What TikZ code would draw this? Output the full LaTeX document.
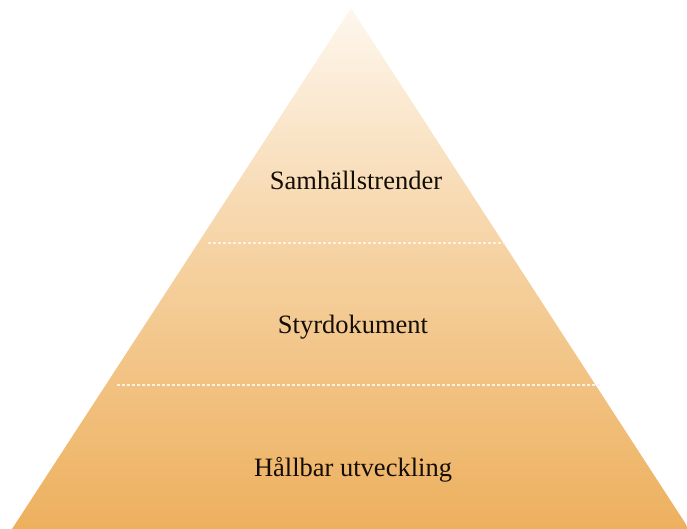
\documentclass[tikz,border=0pt]{standalone}
\usepackage{fontspec}
\setmainfont{Liberation Serif}
\begin{document}
\begin{tikzpicture}[x=1pt,y=-1pt,
  label/.style={font=\fontsize{26.5}{30}\selectfont, text=black!90!brown, inner sep=0pt, anchor=base},
  sep/.style={draw=white!90!orange, line width=1.2pt, dash pattern=on 2.5pt off 2.5pt}]
\useasboundingbox (0,0) rectangle (687,529);
\coordinate (apex) at (351,8);
\coordinate (bl) at (12,529);
\coordinate (br) at (689,529);
\shade[top color={rgb,255:red,254;green,247;blue,238}, bottom color={rgb,255:red,237;green,176;blue,94}, middle color={rgb,255:red,245;green,208;blue,158}]
  (apex) -- (br) -- (bl) -- cycle;
\coordinate (d1l) at (208,243);
\coordinate (d1r) at (505,243);
\coordinate (d2l) at (117,385);
\coordinate (d2r) at (600,385);
\draw[sep] (d1l) -- (d1r);
\draw[sep] (d2l) -- (d2r);
\node[label] (t1) at (356,190) {Samhällstrender};
\node[label] (t2) at (353,333) {Styrdokument};
\node[label] (t3) at (353,476) {Hållbar utveckling};
\end{tikzpicture}
\end{document}
